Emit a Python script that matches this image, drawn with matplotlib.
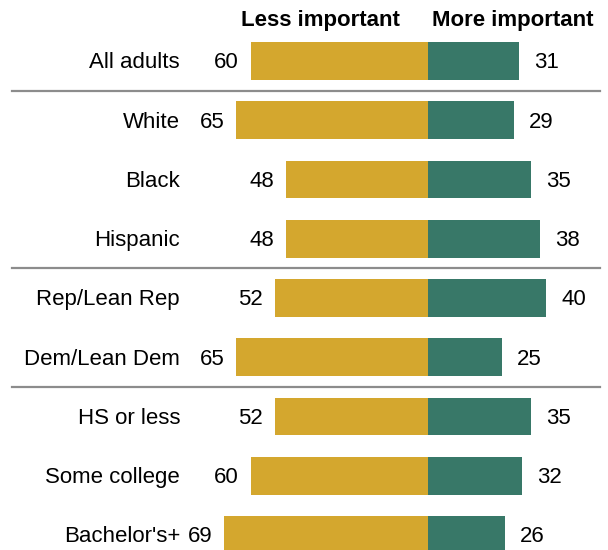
import matplotlib
matplotlib.use('Agg')
import matplotlib.pyplot as plt

GOLD = '#D4A72E'
TEAL = '#387868'

groups = ['All adults', 'White', 'Black', 'Hispanic', 'Rep/Lean Rep', 'Dem/Lean Dem',
          'HS or less', 'Some college', "Bachelor's+"]
less_important = [60, 65, 48, 48, 52, 65, 52, 60, 69]
more_important = [31, 29, 35, 38, 40, 25, 35, 32, 26]
separators_after = [0, 3, 5]

plt.rcParams['font.family'] = ['Liberation Sans', 'DejaVu Sans']

fig = plt.figure(figsize=(6.08, 5.5), dpi=100)
ax = fig.add_axes([0, 0, 1, 1])

# pixel -> data: center at x=428px, 2.95 px per point
PX = 2.95
ax.set_xlim(-428 / PX, (608 - 428) / PX)
ax.set_ylim((550 - 61) / 59.25, -61 / 59.25)

ys = list(range(len(groups)))
ax.barh(ys, [-v for v in less_important], height=0.64, color=GOLD)
ax.barh(ys, more_important, height=0.64, color=TEAL)

fs = 16
for y, name, l, m in zip(ys, groups, less_important, more_important):
    ax.text(-248 / PX, y + 0.03, name, ha='right', va='center', fontsize=fs)
    ax.text(-l - 12 / PX, y + 0.03, str(l), ha='right', va='center', fontsize=fs)
    ax.text(m + 15 / PX, y + 0.03, str(m), ha='left', va='center', fontsize=fs)

for s in separators_after:
    ax.axhline(s + 0.5, xmin=12 / 608, xmax=600 / 608, color='#8c8c8c', lw=1.6)

ax.text(-28 / PX, -0.69, 'Less important', ha='right', va='center',
        fontsize=fs, fontweight='bold')
ax.text(4 / PX, -0.69, 'More important', ha='left', va='center',
        fontsize=fs, fontweight='bold')

ax.axis('off')
fig.savefig('out.png', dpi=100)
